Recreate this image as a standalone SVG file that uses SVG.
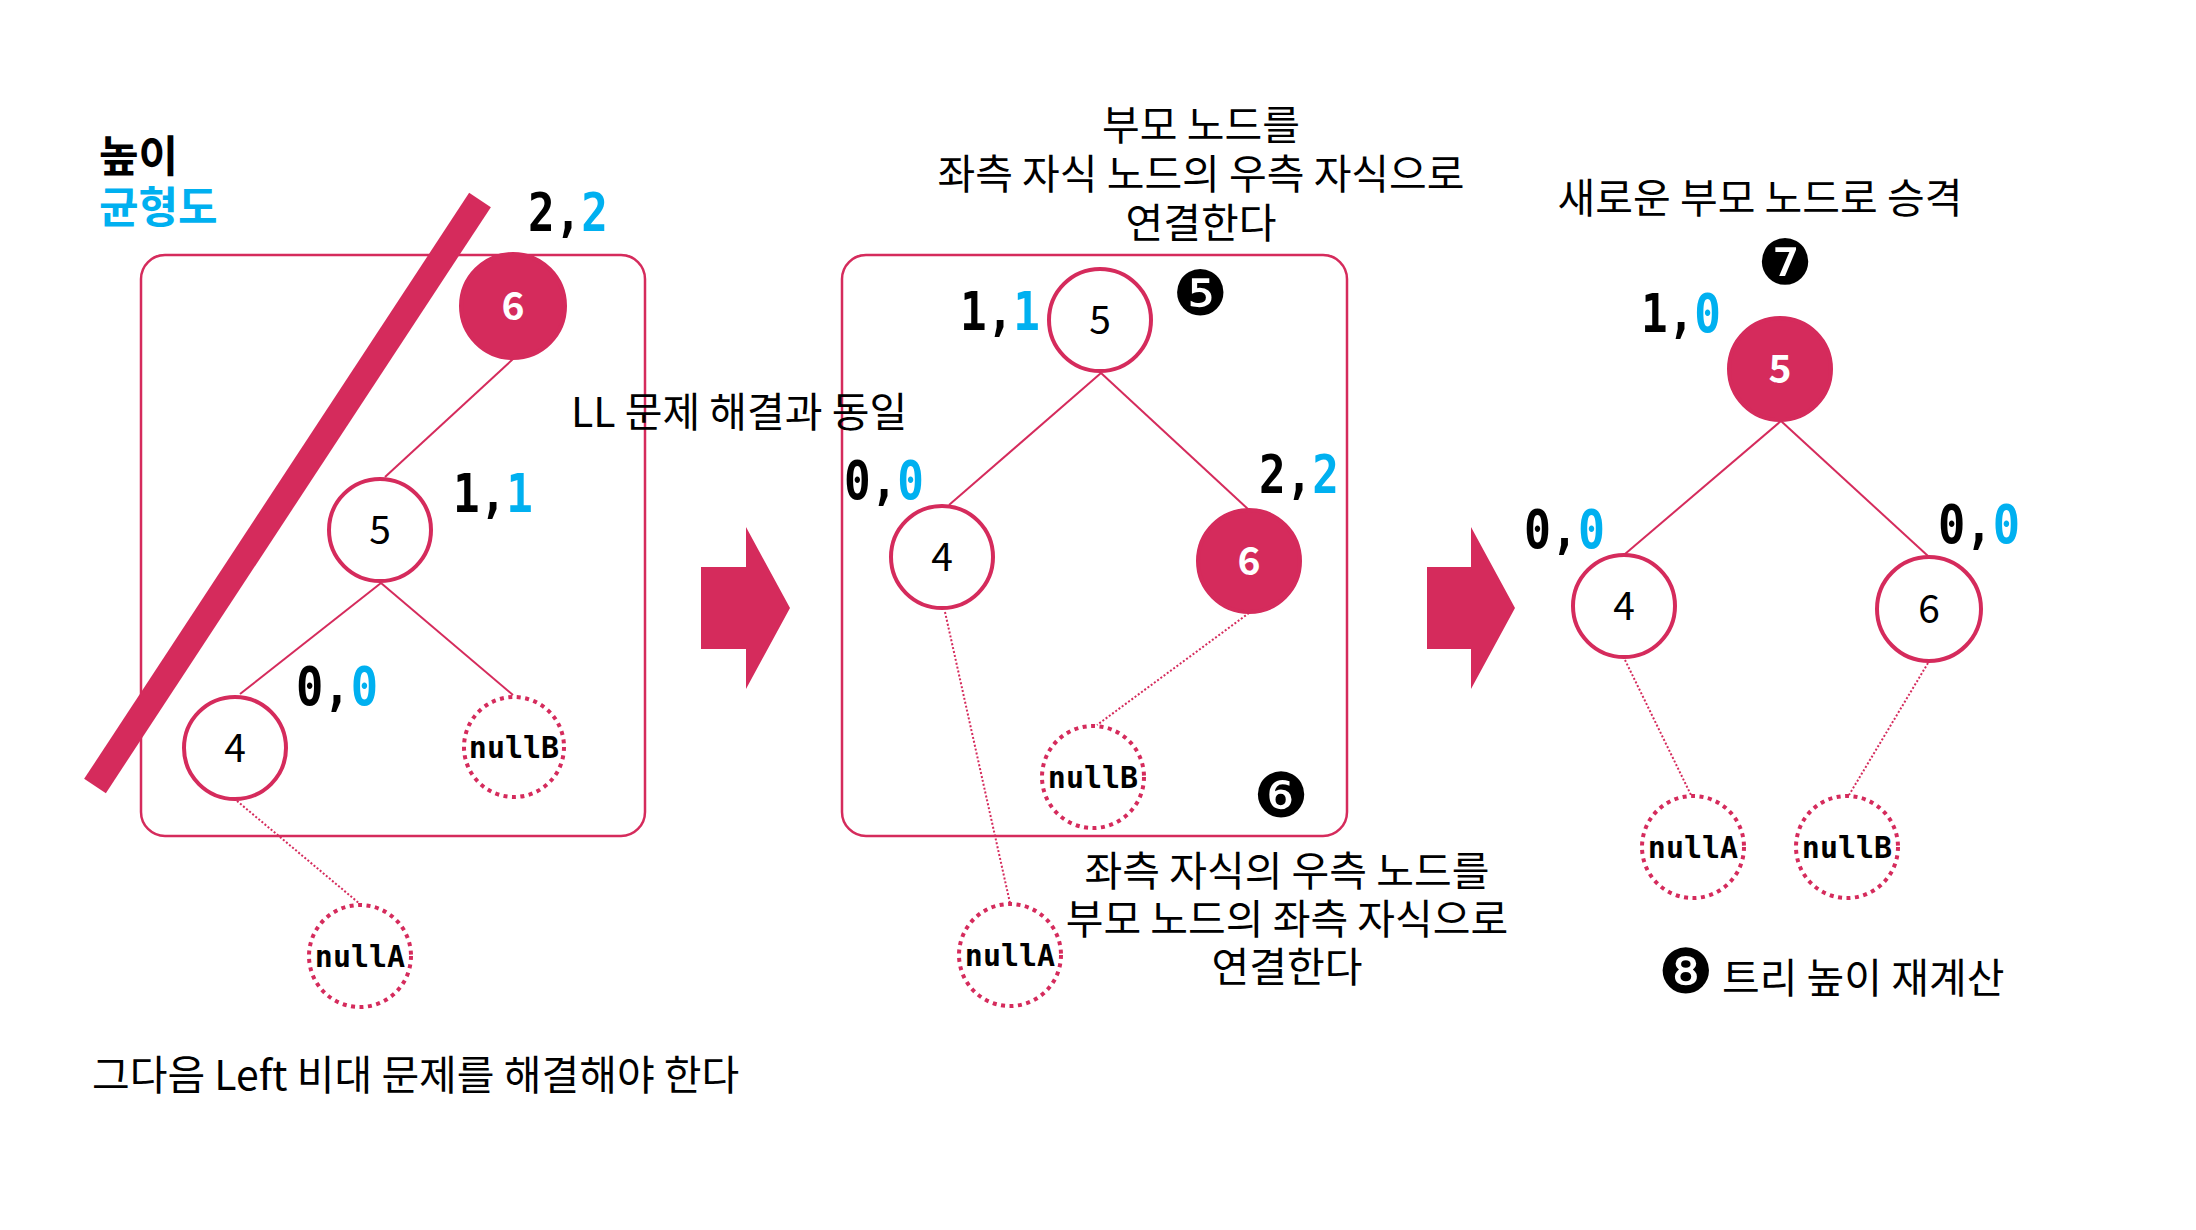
<svg xmlns="http://www.w3.org/2000/svg" width="2196" height="1230" viewBox="0 0 2196 1230">
<style>
.bg{fill:#ffffff}
.box{fill:none;stroke:#D52B5C;stroke-width:2.5}
.n{fill:#ffffff;stroke:#D52B5C;stroke-width:4}
.nf{fill:#D52B5C;stroke:#D52B5C;stroke-width:4}
.nd{fill:#ffffff;stroke:#D52B5C;stroke-width:4;stroke-dasharray:4 4.5}
.e{stroke:#D52B5C;stroke-width:2;fill:none}
.ed{stroke:#D52B5C;stroke-width:2;fill:none;stroke-dasharray:2 2}
.arrow{fill:#D52B5C}
.kr{font-family:"Noto Sans CJK KR","Noto Sans",sans-serif;font-size:41px;fill:#000}
.lbl{font-family:"Noto Sans CJK KR","Noto Sans",sans-serif;font-size:39px;fill:#000;text-anchor:middle}
.lblw{font-family:"Noto Sans CJK KR","Noto Sans",sans-serif;font-size:39px;font-weight:bold;fill:#fff;text-anchor:middle}
.nul{font-family:"DejaVu Sans Mono",monospace;font-weight:bold;font-size:30px;fill:#000;text-anchor:middle}
.hb{font-family:"DejaVu Sans Mono",monospace;font-weight:bold;font-size:53px;fill:#000}
.blue{fill:#00B0F0}
.circ{font-family:"DejaVu Sans",sans-serif;font-size:62px;fill:#000;text-anchor:middle}
.ttl{font-family:"Noto Sans CJK KR","Noto Sans",sans-serif;font-size:43px;font-weight:bold}
</style>
<rect class="bg" x="0" y="0" width="2196" height="1230"/>

<text class="ttl" x="99" y="172" fill="#000">높이</text>
<text class="ttl" x="99" y="223" fill="#00B0F0">균형도</text>

<rect class="box" x="141" y="255" width="504" height="581" rx="24"/>
<rect class="box" x="842" y="255" width="505" height="581" rx="24"/>

<g id="connectors">
<line class="e" x1="513" y1="359" x2="385" y2="477"/>
<line class="e" x1="381" y1="583" x2="240" y2="694"/>
<line class="e" x1="381" y1="583" x2="513" y2="695"/>
<line class="ed" x1="237" y1="801" x2="360" y2="904"/>
<line class="e" x1="1101" y1="373" x2="949" y2="505"/>
<line class="e" x1="1101" y1="373" x2="1249" y2="510"/>
<line class="ed" x1="945" y1="612" x2="1010" y2="903"/>
<line class="ed" x1="1249" y1="613" x2="1097" y2="725"/>
<line class="e" x1="1781" y1="421" x2="1625" y2="554"/>
<line class="e" x1="1781" y1="421" x2="1928" y2="556"/>
<line class="ed" x1="1625" y1="660" x2="1691" y2="795"/>
<line class="ed" x1="1928" y1="663" x2="1849" y2="795"/>
</g>

<line id="strike" x1="480" y1="200" x2="95" y2="786" stroke="#D52B5C" stroke-width="26"/>

<g id="arrow1"><polygon class="arrow" points="701,567 746,567 746,527 790,608 746,689 746,649 701,649"/></g>
<g id="arrow2"><polygon class="arrow" points="1427,567 1471,567 1471,527 1515,608 1471,689 1471,649 1427,649"/></g>

<!-- left tree -->
<g id="L6"><circle class="nf" cx="513" cy="306" r="52"/><text class="lblw" x="513" y="320">6</text></g>
<g id="L5"><circle class="n" cx="380" cy="530" r="51"/><text class="lbl" x="380" y="544">5</text></g>
<g id="L4"><circle class="n" cx="235" cy="748" r="51"/><text class="lbl" x="235" y="762">4</text></g>
<g id="LnullB"><circle class="nd" cx="514" cy="747" r="50"/><text class="nul" x="514" y="758">nullB</text></g>
<g id="LnullA"><circle class="nd" cx="360" cy="956" r="51"/><text class="nul" x="360" y="967">nullA</text></g>
<text class="hb" x="528" y="231" textLength="80" lengthAdjust="spacingAndGlyphs">2,<tspan class="blue">2</tspan></text>
<text class="hb" x="453" y="512" textLength="80" lengthAdjust="spacingAndGlyphs">1,<tspan class="blue">1</tspan></text>
<text class="hb" x="296" y="705" textLength="82" lengthAdjust="spacingAndGlyphs">0,<tspan class="blue">0</tspan></text>
<text class="kr" x="571" y="427">LL 문제 해결과 동일</text>
<text class="kr" x="92" y="1090">그다음 Left 비대 문제를 해결해야 한다</text>

<!-- middle tree -->
<text class="kr" x="1201" y="140" text-anchor="middle">부모 노드를</text>
<text class="kr" x="1201" y="189" text-anchor="middle">좌측 자식 노드의 우측 자식으로</text>
<text class="kr" x="1201" y="238" text-anchor="middle">연결한다</text>
<g id="M5"><circle class="n" cx="1100" cy="320" r="51"/><text class="lbl" x="1100" y="334">5</text></g>
<g id="M4"><circle class="n" cx="942" cy="557" r="51"/><text class="lbl" x="942" y="571">4</text></g>
<g id="M6"><circle class="nf" cx="1249" cy="561" r="51"/><text class="lblw" x="1249" y="575">6</text></g>
<g id="MnullB"><circle class="nd" cx="1093" cy="777" r="51"/><text class="nul" x="1093" y="788">nullB</text></g>
<g id="MnullA"><circle class="nd" cx="1010" cy="955" r="51"/><text class="nul" x="1010" y="966">nullA</text></g>
<text class="hb" x="960" y="330" textLength="80" lengthAdjust="spacingAndGlyphs">1,<tspan class="blue">1</tspan></text>
<text class="hb" x="844" y="499" textLength="80" lengthAdjust="spacingAndGlyphs">0,<tspan class="blue">0</tspan></text>
<text class="hb" x="1259" y="493" textLength="80" lengthAdjust="spacingAndGlyphs">2,<tspan class="blue">2</tspan></text>
<text class="circ" x="1200" y="315">❺</text>
<text class="circ" x="1281" y="817">❻</text>
<text class="kr" x="1287" y="886" text-anchor="middle">좌측 자식의 우측 노드를</text>
<text class="kr" x="1287" y="934" text-anchor="middle">부모 노드의 좌측 자식으로</text>
<text class="kr" x="1287" y="982" text-anchor="middle">연결한다</text>

<!-- right tree -->
<text class="kr" x="1760" y="213" text-anchor="middle">새로운 부모 노드로 승격</text>
<text class="circ" x="1785" y="284">❼</text>
<g id="R5"><circle class="nf" cx="1780" cy="369" r="51"/><text class="lblw" x="1780" y="383">5</text></g>
<g id="R4"><circle class="n" cx="1624" cy="606" r="51"/><text class="lbl" x="1624" y="620">4</text></g>
<g id="R6"><circle class="n" cx="1929" cy="609" r="52"/><text class="lbl" x="1929" y="623">6</text></g>
<g id="RnullA"><circle class="nd" cx="1693" cy="847" r="51"/><text class="nul" x="1693" y="858">nullA</text></g>
<g id="RnullB"><circle class="nd" cx="1847" cy="847" r="51"/><text class="nul" x="1847" y="858">nullB</text></g>
<text class="hb" x="1641" y="332" textLength="80" lengthAdjust="spacingAndGlyphs">1,<tspan class="blue">0</tspan></text>
<text class="hb" x="1524" y="548" textLength="81" lengthAdjust="spacingAndGlyphs">0,<tspan class="blue">0</tspan></text>
<text class="hb" x="1938" y="543" textLength="82" lengthAdjust="spacingAndGlyphs">0,<tspan class="blue">0</tspan></text>
<text class="kr" x="1658" y="993"><tspan style="font-family:'DejaVu Sans',sans-serif;font-size:62px">❽</tspan><tspan x="1722">트리 높이 재계산</tspan></text>
</svg>
